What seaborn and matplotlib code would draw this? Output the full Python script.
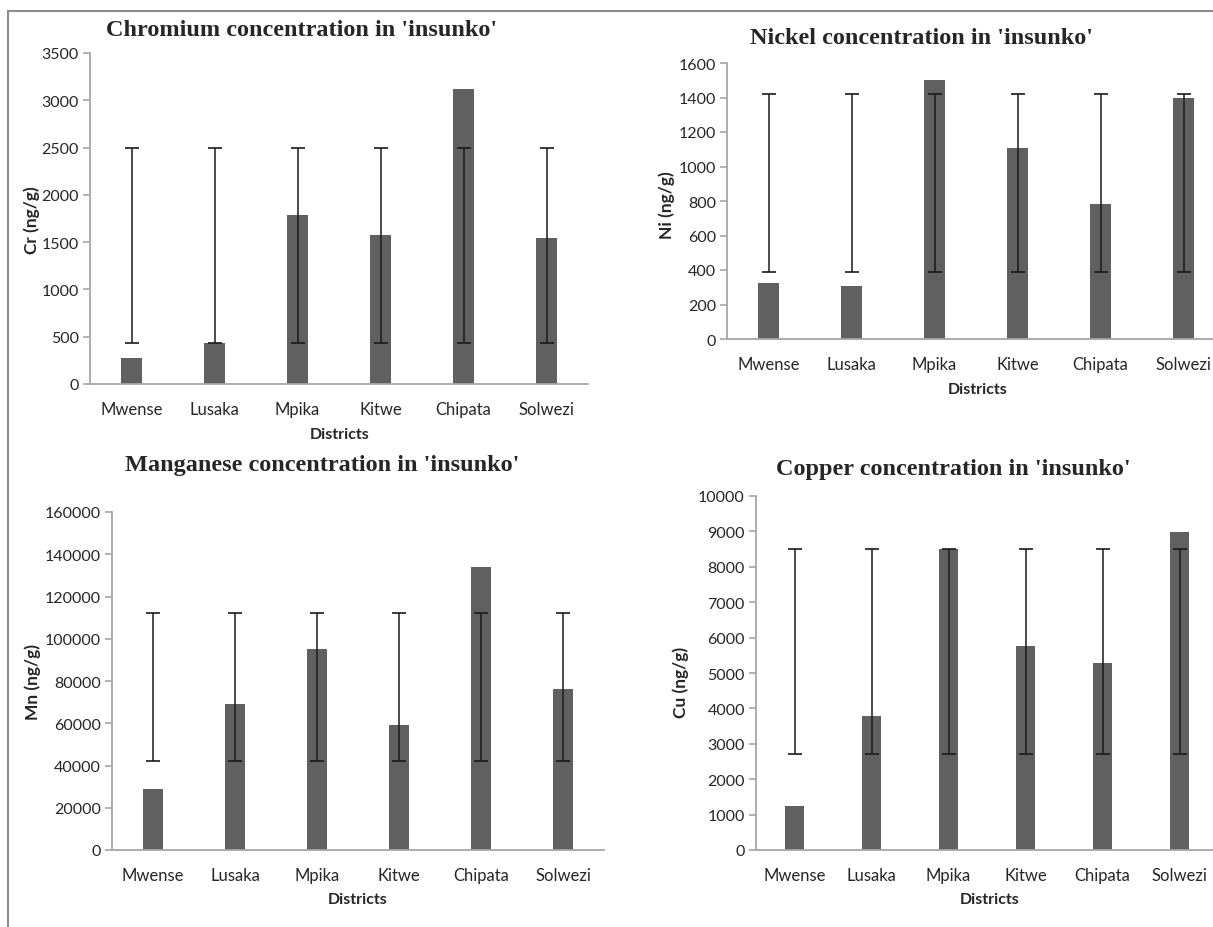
import matplotlib
matplotlib.use("Agg")

import numpy as np
import pandas as pd
import matplotlib.pyplot as plt
import seaborn as sns
from matplotlib.lines import Line2D

sns.set_theme(style="white")
plt.rcParams['font.family'] = ['Lato', 'DejaVu Sans']

W, H = 1213, 928

districts = ["Mwense", "Lusaka", "Mpika", "Kitwe", "Chipata", "Solwezi"]

cr_values = [280, 430, 1790, 1580, 3120, 1540]
cr_range = (430, 2500)
ni_values = [325, 310, 1500, 1110, 780, 1400]
ni_range = (390, 1420)
mn_values = [29000, 69000, 95000, 59000, 134000, 76000]
mn_range = (42000, 112000)
cu_values = [1230, 3780, 8500, 5750, 5270, 8980]
cu_range = (2700, 8500)

cr_ticks = np.arange(0, 3501, 500)
ni_ticks = np.arange(0, 1601, 200)
mn_ticks = np.arange(0, 160001, 20000)
cu_ticks = np.arange(0, 10001, 1000)

panels = [
    # values, range, ticks, title, ylabel, axes box (px), title pos, ylabel pos, xlabel pos
    (cr_values, cr_range, cr_ticks, "Chromium concentration in 'insunko'", "Cr (ng/g)",
     (90, 54, 588, 385), (302, 30), (32, 220), (340, 435)),
    (ni_values, ni_range, ni_ticks, "Nickel concentration in 'insunko'", "Ni (ng/g)",
     (727, 64, 1225, 340), (922, 38), (667, 205), (978, 390)),
    (mn_values, mn_range, mn_ticks, "Manganese concentration in 'insunko'", "Mn (ng/g)",
     (112, 513, 604, 851), (322, 466), (33, 682), (358, 900)),
    (cu_values, cu_range, cu_ticks, "Copper concentration in 'insunko'", "Cu (ng/g)",
     (756, 497, 1218, 851), (953, 470), (681, 682), (990, 900)),
]

fig = plt.figure(figsize=(W / 100, H / 100), dpi=100)

for values, rng, ticks, title, ylabel, box, tpos, ypos, xpos in panels:
    x0, y0, x1, y1 = box
    ax = fig.add_axes([x0 / W, 1 - y1 / H, (x1 - x0) / W, (y1 - y0) / H])
    df = pd.DataFrame({"district": districts, "value": values})
    sns.barplot(data=df, x="district", y="value", color="#606060", saturation=1,
                width=0.25, ax=ax, errorbar=None)
    for p in ax.patches:
        p.set_edgecolor("none")
    pos = np.arange(len(districts))
    lows = np.full(len(districts), rng[0])
    highs = np.full(len(districts), rng[1])
    ax.errorbar(pos, lows, yerr=[np.zeros(len(pos)), highs - lows], fmt="none",
                ecolor="#1a1a1a", elinewidth=1.1, capsize=5, capthick=1.2)
    ax.set_xlim(-0.5, len(districts) - 0.5)
    ax.set_ylim(0, ticks[-1])
    ax.set_yticks(ticks)
    ax.set_xlabel("")
    ax.set_ylabel("")
    for s in ["top", "right"]:
        ax.spines[s].set_visible(False)
    for s in ["left", "bottom"]:
        ax.spines[s].set_color("#a6a6a6")
        ax.spines[s].set_linewidth(1.3)
    ax.tick_params(axis="y", length=5, width=1.2, color="#a6a6a6", labelsize=11.5, pad=3, left=True)
    ax.tick_params(axis="x", length=0, labelsize=12, pad=12)
    ax.patch.set_alpha(0)

    fig.text(tpos[0] / W, 1 - tpos[1] / H, title, ha="center", va="center",
             fontsize=17.5, fontweight="bold", family="Liberation Serif")
    fig.text(ypos[0] / W, 1 - ypos[1] / H, ylabel, ha="center", va="center",
             rotation=90, fontsize=12.5, fontweight="bold")
    fig.text(xpos[0] / W, 1 - xpos[1] / H, "Districts", ha="center", va="center",
             fontsize=11.5, fontweight="bold")

# outer frame of the composite
fig.add_artist(Line2D([8 / W, 1], [1 - 12 / H, 1 - 12 / H], color="#8c8c8c", lw=1.5))
fig.add_artist(Line2D([8 / W, 8 / W], [0, 1 - 12 / H], color="#8c8c8c", lw=1.5))

fig.savefig("out.png", dpi=100, facecolor="white")
plt.close()
